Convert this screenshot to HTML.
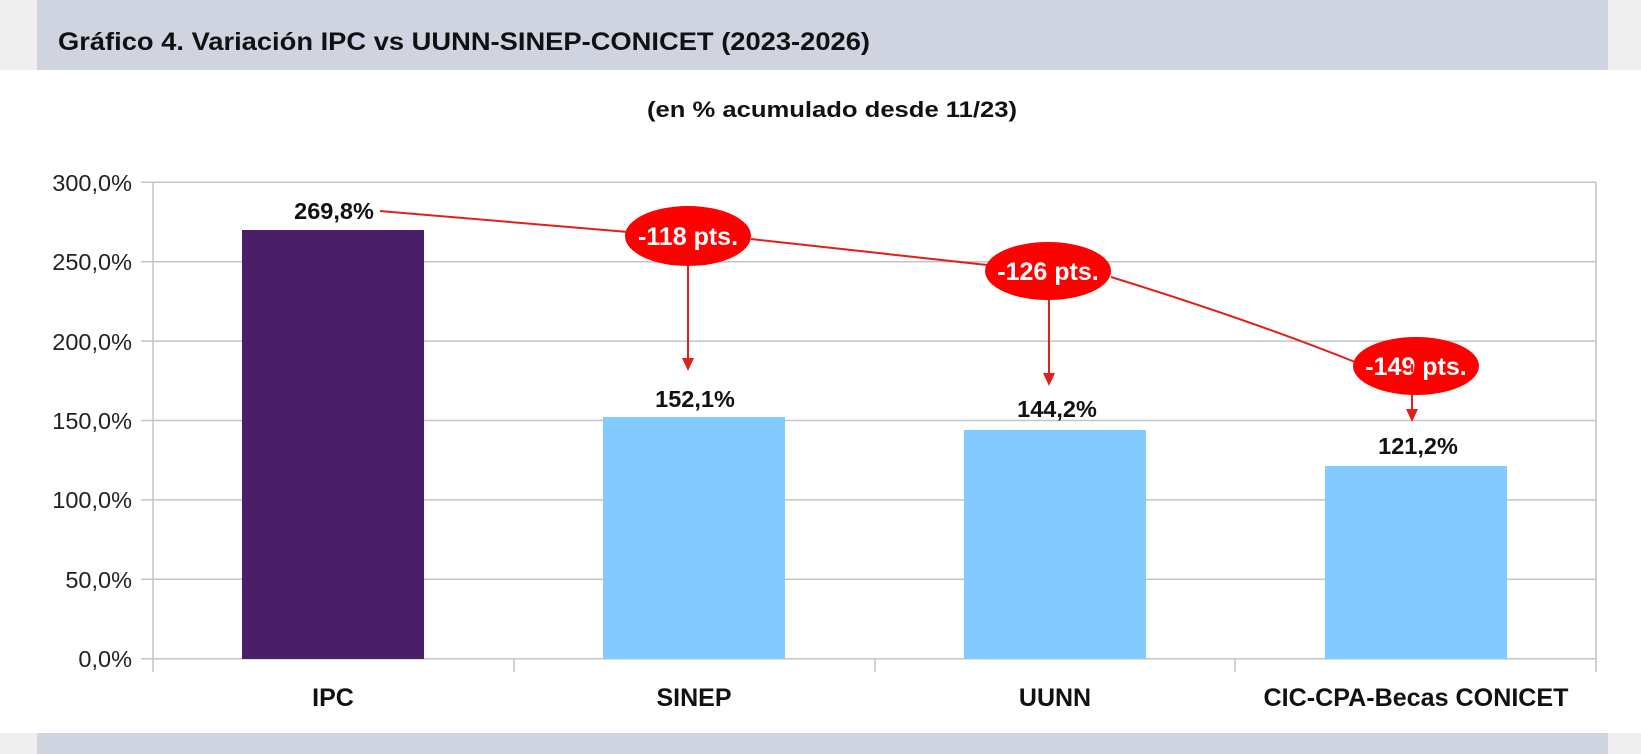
<!DOCTYPE html>
<html><head><meta charset="utf-8"><style>
html,body{margin:0;padding:0;background:#fff;}
svg{display:block;}
</style></head><body>
<svg width="1641" height="754" viewBox="0 0 1641 754" xmlns="http://www.w3.org/2000/svg" font-family="Liberation Sans, sans-serif">
<rect x="0" y="0" width="1641" height="754" fill="#fff"/>
<rect x="0" y="0" width="1641" height="70" fill="#efefef"/>
<rect x="37" y="0" width="1571" height="70" fill="#cfd4e0"/>
<rect x="0" y="733" width="1641" height="21" fill="#efefef"/>
<rect x="37" y="733" width="1571" height="21" fill="#cfd4e0"/>
<text x="58" y="50" font-size="25" font-weight="bold" fill="#111" textLength="812" lengthAdjust="spacingAndGlyphs">Gráfico 4. Variación IPC vs UUNN-SINEP-CONICET (2023-2026)</text>
<text x="832" y="117" font-size="22" font-weight="bold" fill="#111" text-anchor="middle" textLength="370" lengthAdjust="spacingAndGlyphs">(en % acumulado desde 11/23)</text>
<g stroke="#c4c4c4" stroke-width="1.5">
<line x1="141" y1="182.3" x2="1596" y2="182.3"/>
<line x1="141" y1="261.7" x2="1596" y2="261.7"/>
<line x1="141" y1="341.1" x2="1596" y2="341.1"/>
<line x1="141" y1="420.5" x2="1596" y2="420.5"/>
<line x1="141" y1="499.9" x2="1596" y2="499.9"/>
<line x1="141" y1="579.3" x2="1596" y2="579.3"/>
<line x1="141" y1="658.7" x2="1596" y2="658.7"/>
<line x1="153" y1="182" x2="153" y2="672"/>
<line x1="1596" y1="182" x2="1596" y2="672"/>
<line x1="514" y1="659" x2="514" y2="672"/>
<line x1="875" y1="659" x2="875" y2="672"/>
<line x1="1235" y1="659" x2="1235" y2="672"/>
</g>
<g font-size="23.5" fill="#222" text-anchor="end">
<text x="132" y="191">300,0%</text>
<text x="132" y="270">250,0%</text>
<text x="132" y="350">200,0%</text>
<text x="132" y="429">150,0%</text>
<text x="132" y="508">100,0%</text>
<text x="132" y="588">50,0%</text>
<text x="132" y="667">0,0%</text>
</g>
<rect x="242" y="230" width="182" height="429" fill="#4a1f6a"/>
<rect x="603" y="417" width="182" height="242" fill="#82caff"/>
<rect x="964" y="430" width="182" height="229" fill="#82caff"/>
<rect x="1325" y="466" width="182" height="193" fill="#82caff"/>
<g font-size="23.5" font-weight="bold" fill="#111" text-anchor="middle">
<text x="334" y="219">269,8%</text>
<text x="695" y="407">152,1%</text>
<text x="1057" y="417">144,2%</text>
<text x="1418" y="454">121,2%</text>
</g>
<g font-size="25" font-weight="bold" fill="#111" text-anchor="middle">
<text x="333" y="706">IPC</text>
<text x="694" y="706">SINEP</text>
<text x="1055" y="706">UUNN</text>
<text x="1416" y="706" textLength="305" lengthAdjust="spacingAndGlyphs">CIC-CPA-Becas CONICET</text>
</g>
<g stroke="#e0201a" stroke-width="2" fill="none">
<path d="M380 211 L628 232"/>
<path d="M751 239 L987 265"/>
<path d="M1111 277 Q1250 320 1355 362"/>
<line x1="688" y1="264" x2="688" y2="362"/>
<line x1="1049" y1="298" x2="1049" y2="378"/>
<line x1="1412" y1="368" x2="1412" y2="414"/>
</g>
<g fill="#e0201a">
<polygon points="682,358 694,358 688,371"/>
<polygon points="1043,373 1055,373 1049,386"/>
<polygon points="1406,409 1418,409 1412,422"/>
</g>
<g fill="#ff0000">
<ellipse cx="688" cy="236" rx="63" ry="30"/>
<ellipse cx="1048" cy="271" rx="63" ry="29"/>
<ellipse cx="1416" cy="366" rx="63" ry="29"/>
</g>
<g font-size="25" font-weight="bold" fill="#fff" text-anchor="middle">
<text x="688" y="245">-118 pts.</text>
<text x="1048" y="280">-126 pts.</text>
<text x="1416" y="375">-149 pts.</text>
</g>
<line x1="1412" y1="364" x2="1412" y2="372" stroke="#e0201a" stroke-width="2"/>
</svg>
</body></html>
